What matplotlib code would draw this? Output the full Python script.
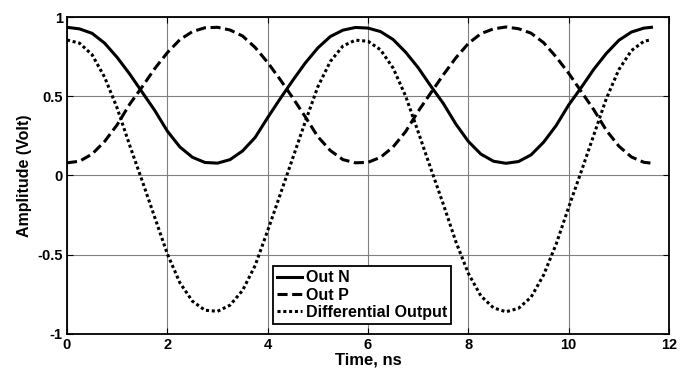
import matplotlib.pyplot as plt
import numpy as np

plt.rcParams['font.family'] = ['Liberation Sans', 'DejaVu Sans']
plt.rcParams['font.weight'] = 'bold'

# samples, time in ns
time_ns = [0, 0.25, 0.5, 0.75, 1.0, 1.25, 1.5, 1.75, 2.0, 2.25, 2.5, 2.75,
           3.0, 3.25, 3.5, 3.75, 4.0, 4.25, 4.5, 4.75, 5.0, 5.25, 5.5, 5.75,
           6.0, 6.25, 6.5, 6.75, 7.0, 7.25, 7.5, 7.75, 8.0, 8.25, 8.5, 8.75,
           9.0, 9.25, 9.5, 9.75, 10.0, 10.25, 10.5, 10.75, 11.0, 11.25, 11.5, 11.65]

out_n = [0.935, 0.925, 0.897, 0.835, 0.745, 0.64, 0.525, 0.41, 0.28, 0.18, 0.115, 0.082,
         0.078, 0.10, 0.155, 0.24, 0.365, 0.485, 0.60, 0.71, 0.805, 0.877, 0.917, 0.934,
         0.930, 0.908, 0.858, 0.778, 0.68, 0.565, 0.455, 0.325, 0.215, 0.135, 0.09, 0.077,
         0.088, 0.13, 0.21, 0.315, 0.445, 0.555, 0.67, 0.77, 0.853, 0.905, 0.93, 0.935]

out_p = [0.08, 0.09, 0.135, 0.215, 0.32, 0.45, 0.56, 0.675, 0.775, 0.857, 0.908, 0.932,
         0.935, 0.918, 0.88, 0.808, 0.713, 0.605, 0.49, 0.37, 0.245, 0.157, 0.10, 0.08,
         0.083, 0.115, 0.18, 0.277, 0.405, 0.52, 0.635, 0.742, 0.833, 0.895, 0.925, 0.937,
         0.926, 0.898, 0.838, 0.748, 0.645, 0.53, 0.415, 0.285, 0.185, 0.117, 0.083, 0.078]

diff_out = [0.855, 0.835, 0.762, 0.62, 0.425, 0.19, -0.035, -0.265, -0.495, -0.677, -0.793, -0.85,
            -0.857, -0.818, -0.725, -0.568, -0.348, -0.12, 0.11, 0.34, 0.56, 0.72, 0.817, 0.854,
            0.847, 0.793, 0.678, 0.501, 0.275, 0.045, -0.18, -0.417, -0.618, -0.76, -0.835, -0.86,
            -0.838, -0.768, -0.628, -0.433, -0.20, 0.025, 0.255, 0.485, 0.668, 0.788, 0.847, 0.857]

x_ticks = [0, 2, 4, 6, 8, 10, 12]
y_ticks = [-1, -0.5, 0, 0.5, 1]
y_tick_labels = ['-1', '-0.5', '0', '0.5', '1']

fig = plt.figure(figsize=(6.9, 3.72), dpi=100)
ax = fig.add_axes([0.0971, 0.1022, 0.8725, 0.8521])

ax.plot(time_ns, out_n, color='black', lw=2.2, ls='-', label='Out N')
ax.plot(time_ns, out_p, color='black', lw=2.2, ls=(0, (3.3, 1.5)), label='Out P')
ax.plot(time_ns, diff_out, color='black', lw=2.2, ls=(0, (1, 0.9)), label='Differential Output')

ax.set_xlim(0, 12)
ax.set_ylim(-1, 1)
ax.set_xticks(x_ticks)
ax.set_xticklabels([str(v) for v in x_ticks])
ax.set_yticks(y_ticks)
ax.set_yticklabels(y_tick_labels)
ax.grid(True, color='#808080', lw=0.8)
ax.set_axisbelow(True)
ax.tick_params(direction='in', length=4, top=True, right=True, labelsize=10.5, pad=3)
for s in ax.spines.values():
    s.set_linewidth(1.3)

ax.set_xlabel('Time, ns', fontsize=12, fontweight='bold', labelpad=0)
ax.set_ylabel('Amplitude (Volt)', fontsize=11.5, fontweight='bold', labelpad=4)

leg = ax.legend(loc='lower left', bbox_to_anchor=(0.342, 0.0315), borderaxespad=0,
                fancybox=False, framealpha=1, edgecolor='black', fontsize=11.5,
                handlelength=1.6, handletextpad=0.2, labelspacing=0.15, borderpad=0.25)
leg.get_frame().set_linewidth(1.3)

fig.savefig('out.png', dpi=100)
